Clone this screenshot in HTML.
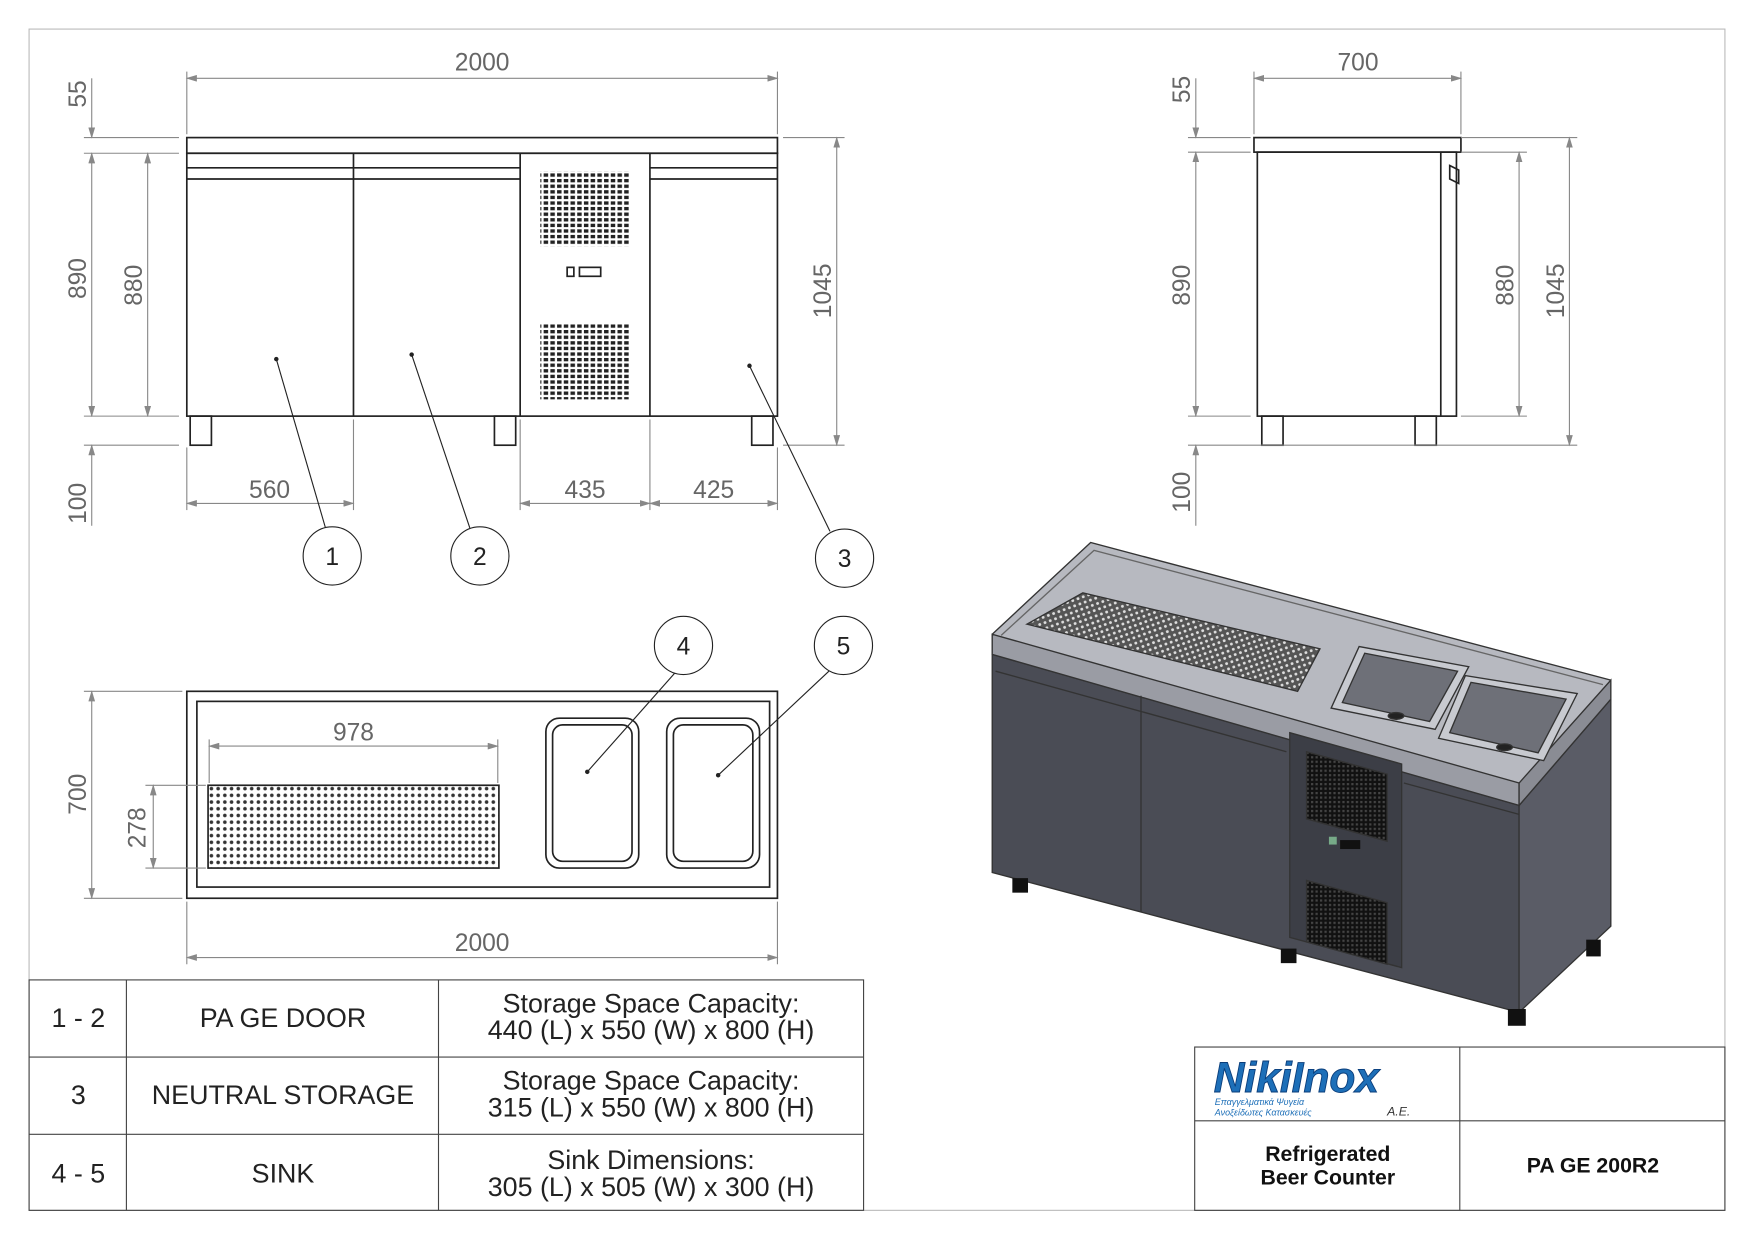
<!DOCTYPE html>
<html><head><meta charset="utf-8"><style>
html,body{margin:0;padding:0;background:#fff;}
svg{display:block;}
text{font-family:"Liberation Sans",sans-serif;}
</style></head><body>
<svg width="1754" height="1241" viewBox="0 0 1568 1109.4" preserveAspectRatio="none" xmlns="http://www.w3.org/2000/svg">
<defs>
<pattern id="dots" width="6" height="6" patternUnits="userSpaceOnUse"><circle cx="3" cy="3" r="1.6" fill="#333"/></pattern>
<pattern id="dots2" width="5" height="5" patternUnits="userSpaceOnUse" patternTransform="rotate(-20)"><rect width="5" height="5" fill="#555"/><circle cx="2.5" cy="2.5" r="1.3" fill="#ddd"/></pattern>
<pattern id="louv" width="6" height="5" patternUnits="userSpaceOnUse"><rect width="6" height="5" fill="#fff"/><rect x="0" y="0" width="4" height="3" fill="#222"/></pattern>
<pattern id="louv2" width="4" height="4" patternUnits="userSpaceOnUse"><rect width="4" height="4" fill="#111"/><rect x="0" y="0" width="2" height="2" fill="#444"/></pattern>
<marker id="a" markerWidth="10" markerHeight="6" refX="9" refY="3" orient="auto-start-reverse" markerUnits="userSpaceOnUse"><path d="M0,0 L10,3 L0,6 z" fill="#888"/></marker>
</defs>
<rect x="26" y="26" width="1516" height="1056" fill="none" stroke="#bbb" stroke-width="1"/>

<g stroke="#222" stroke-width="1.5" fill="none">
<rect x="167" y="123" width="528" height="14"/>
<rect x="167" y="137" width="528" height="235"/>
<line x1="316" y1="137" x2="316" y2="372"/><line x1="465" y1="137" x2="465" y2="372"/><line x1="581" y1="137" x2="581" y2="372"/>
<line x1="167" y1="150" x2="465" y2="150"/><line x1="167" y1="160" x2="465" y2="160"/>
<line x1="581" y1="150" x2="695" y2="150"/><line x1="581" y1="160" x2="695" y2="160"/>
<rect x="170" y="372" width="19" height="26"/><rect x="442" y="372" width="19" height="26"/><rect x="672" y="372" width="19" height="26"/>
<rect x="507" y="239" width="6" height="8"/><rect x="518" y="239" width="19" height="8"/>
</g>
<rect x="483" y="153" width="80" height="67" fill="url(#louv)"/>
<rect x="483" y="290" width="80" height="67" fill="url(#louv)"/>

<g stroke="#888" stroke-width="1" fill="none">
<line x1="167" y1="70" x2="695" y2="70" marker-start="url(#a)" marker-end="url(#a)"/>
<line x1="167" y1="64" x2="167" y2="120"/><line x1="695" y1="64" x2="695" y2="120"/>
<line x1="75" y1="123" x2="160" y2="123"/><line x1="75" y1="137" x2="160" y2="137"/><line x1="75" y1="372" x2="160" y2="372"/><line x1="75" y1="398" x2="160" y2="398"/>
<line x1="82" y1="70" x2="82" y2="123" marker-end="url(#a)"/>
<line x1="82" y1="137" x2="82" y2="372" marker-start="url(#a)" marker-end="url(#a)"/>
<line x1="82" y1="398" x2="82" y2="470" marker-start="url(#a)"/>
<line x1="132" y1="137" x2="132" y2="372" marker-start="url(#a)" marker-end="url(#a)"/>
<line x1="700" y1="123" x2="755" y2="123"/><line x1="700" y1="398" x2="755" y2="398"/>
<line x1="748" y1="123" x2="748" y2="398" marker-start="url(#a)" marker-end="url(#a)"/>
<line x1="167" y1="400" x2="167" y2="456"/><line x1="316" y1="375" x2="316" y2="456"/>
<line x1="465" y1="375" x2="465" y2="456"/><line x1="581" y1="375" x2="581" y2="456"/><line x1="695" y1="400" x2="695" y2="456"/>
<line x1="167" y1="450" x2="316" y2="450" marker-start="url(#a)" marker-end="url(#a)"/>
<line x1="465" y1="450" x2="581" y2="450" marker-start="url(#a)" marker-end="url(#a)"/>
<line x1="581" y1="450" x2="695" y2="450" marker-start="url(#a)" marker-end="url(#a)"/>
</g>
<g fill="#666" font-size="22">
<text x="431" y="63" text-anchor="middle">2000</text>
<text x="241" y="445" text-anchor="middle">560</text>
<text x="523" y="445" text-anchor="middle">435</text>
<text x="638" y="445" text-anchor="middle">425</text>
<text transform="translate(77,84) rotate(-90)" text-anchor="middle">55</text>
<text transform="translate(77,249) rotate(-90)" text-anchor="middle">890</text>
<text transform="translate(127,255) rotate(-90)" text-anchor="middle">880</text>
<text transform="translate(77,450) rotate(-90)" text-anchor="middle">100</text>
<text transform="translate(743,260) rotate(-90)" text-anchor="middle">1045</text>
</g>
<g stroke="#222" stroke-width="1" fill="none">
<line x1="247" y1="321" x2="291" y2="472"/><line x1="368" y1="317" x2="420" y2="472"/><line x1="670" y1="327" x2="742" y2="475"/>
<line x1="525" y1="690" x2="603" y2="602"/><line x1="642" y1="693" x2="741" y2="600"/>
<circle cx="297" cy="497" r="26" fill="#fff"/><circle cx="429" cy="497" r="26" fill="#fff"/><circle cx="755" cy="499" r="26" fill="#fff"/>
<circle cx="611" cy="577" r="26" fill="#fff"/><circle cx="754" cy="577" r="26" fill="#fff"/>
</g>
<g fill="#222"><circle cx="247" cy="321" r="2"/><circle cx="368" cy="317" r="2"/><circle cx="670" cy="327" r="2"/><circle cx="525" cy="690" r="2"/><circle cx="642" cy="693" r="2"/></g>
<g fill="#222" font-size="22" text-anchor="middle">
<text x="297" y="505">1</text><text x="429" y="505">2</text><text x="755" y="507">3</text><text x="611" y="585">4</text><text x="754" y="585">5</text>
</g>

<g stroke="#222" stroke-width="1.5" fill="none">
<rect x="1121" y="123" width="185" height="13"/>
<rect x="1124" y="136" width="178" height="236"/>
<line x1="1288" y1="136" x2="1288" y2="372"/>
<path d="M1296,148 l8,4 v12 l-8,-4 z"/>
<rect x="1128" y="372" width="19" height="26"/><rect x="1265" y="372" width="19" height="26"/>
</g>
<g stroke="#888" stroke-width="1" fill="none">
<line x1="1121" y1="70" x2="1306" y2="70" marker-start="url(#a)" marker-end="url(#a)"/>
<line x1="1121" y1="64" x2="1121" y2="120"/><line x1="1306" y1="64" x2="1306" y2="120"/>
<line x1="1062" y1="123" x2="1118" y2="123"/><line x1="1062" y1="136" x2="1118" y2="136"/><line x1="1062" y1="372" x2="1118" y2="372"/><line x1="1062" y1="398" x2="1410" y2="398"/>
<line x1="1069" y1="70" x2="1069" y2="123" marker-end="url(#a)"/>
<line x1="1069" y1="136" x2="1069" y2="372" marker-start="url(#a)" marker-end="url(#a)"/>
<line x1="1069" y1="398" x2="1069" y2="470" marker-start="url(#a)"/>
<line x1="1306" y1="136" x2="1365" y2="136"/><line x1="1306" y1="372" x2="1365" y2="372"/><line x1="1306" y1="123" x2="1410" y2="123"/>
<line x1="1358" y1="136" x2="1358" y2="372" marker-start="url(#a)" marker-end="url(#a)"/>
<line x1="1403" y1="123" x2="1403" y2="398" marker-start="url(#a)" marker-end="url(#a)"/>
</g>
<g fill="#666" font-size="22">
<text x="1214" y="63" text-anchor="middle">700</text>
<text transform="translate(1064,80) rotate(-90)" text-anchor="middle">55</text>
<text transform="translate(1064,255) rotate(-90)" text-anchor="middle">890</text>
<text transform="translate(1353,255) rotate(-90)" text-anchor="middle">880</text>
<text transform="translate(1398,260) rotate(-90)" text-anchor="middle">1045</text>
<text transform="translate(1064,440) rotate(-90)" text-anchor="middle">100</text>
</g>

<g stroke="#222" stroke-width="1.5" fill="none">
<rect x="167" y="618" width="528" height="185"/>
<rect x="176" y="627" width="512" height="166"/>
<rect x="488" y="642" width="83" height="134" rx="12"/><rect x="494" y="648" width="71" height="122" rx="9"/>
<rect x="596" y="642" width="83" height="134" rx="12"/><rect x="602" y="648" width="71" height="122" rx="9"/>
</g>
<rect x="186" y="702" width="260" height="74" fill="url(#dots)" stroke="#222" stroke-width="1.5"/>
<g stroke="#888" stroke-width="1" fill="none">
<line x1="187" y1="667" x2="445" y2="667" marker-start="url(#a)" marker-end="url(#a)"/>
<line x1="187" y1="661" x2="187" y2="700"/><line x1="445" y1="661" x2="445" y2="700"/>
<line x1="75" y1="618" x2="163" y2="618"/><line x1="75" y1="803" x2="163" y2="803"/>
<line x1="82" y1="618" x2="82" y2="803" marker-start="url(#a)" marker-end="url(#a)"/>
<line x1="130" y1="702" x2="184" y2="702"/><line x1="130" y1="776" x2="184" y2="776"/>
<line x1="137" y1="702" x2="137" y2="776" marker-start="url(#a)" marker-end="url(#a)"/>
<line x1="167" y1="806" x2="167" y2="862"/><line x1="695" y1="806" x2="695" y2="862"/>
<line x1="167" y1="856" x2="695" y2="856" marker-start="url(#a)" marker-end="url(#a)"/>
</g>
<g fill="#666" font-size="22">
<text x="316" y="662" text-anchor="middle">978</text>
<text x="431" y="850" text-anchor="middle">2000</text>
<text transform="translate(77,710) rotate(-90)" text-anchor="middle">700</text>
<text transform="translate(130,740) rotate(-90)" text-anchor="middle">278</text>
</g>

<g stroke="#444" stroke-width="1" fill="none">
<rect x="26" y="876" width="746" height="206"/>
<line x1="26" y1="945" x2="772" y2="945"/><line x1="26" y1="1014" x2="772" y2="1014"/>
<line x1="113" y1="876" x2="113" y2="1082"/><line x1="392" y1="876" x2="392" y2="1082"/>
</g>
<g fill="#222" font-size="24" text-anchor="middle">
<text x="70" y="918">1 - 2</text><text x="253" y="918">PA GE DOOR</text>
<text x="582" y="905">Storage Space Capacity:</text><text x="582" y="929">440 (L) x 550 (W) x 800 (H)</text>
<text x="70" y="987">3</text><text x="253" y="987">NEUTRAL STORAGE</text>
<text x="582" y="974">Storage Space Capacity:</text><text x="582" y="998">315 (L) x 550 (W) x 800 (H)</text>
<text x="70" y="1057">4 - 5</text><text x="253" y="1057">SINK</text>
<text x="582" y="1045">Sink Dimensions:</text><text x="582" y="1069">305 (L) x 505 (W) x 300 (H)</text>
</g>

<g stroke="#444" stroke-width="1" fill="none">
<rect x="1068" y="936" width="474" height="146"/>
<line x1="1305" y1="936" x2="1305" y2="1082"/><line x1="1068" y1="1002" x2="1542" y2="1002"/>
</g>
<text x="1085" y="976" font-size="38" font-weight="bold" font-style="italic" fill="#1d6fb8" stroke="#0a3d7a" stroke-width="0.8">NikiInox</text>
<text x="1086" y="988" font-size="8" fill="#1d6fb8" font-style="italic">Επαγγελματικά Ψυγεία</text>
<text x="1086" y="997" font-size="8" fill="#1d6fb8" font-style="italic">Ανοξείδωτες Κατασκευές</text>
<text x="1240" y="997" font-size="11" fill="#333" font-style="italic">A.E.</text>
<g fill="#111" font-size="19" font-weight="bold" text-anchor="middle">
<text x="1187" y="1038">Refrigerated</text><text x="1187" y="1059">Beer Counter</text>
<text x="1424" y="1048">PA GE 200R2</text>
</g>

<g stroke="#333" stroke-width="1.2">
<polygon points="887,567 975,485 1440,608 1440,625 1358,720 887,585" fill="#b7b9c0"/>
<polyline points="895,568 978,492 1433,612" fill="none" stroke="#666"/>
<polygon points="887,585 1358,720 1358,905 887,780" fill="#4a4c55"/>
<polygon points="1358,720 1440,625 1440,828 1358,905" fill="#5a5c66"/>
<polygon points="887,567 1358,700 1358,720 887,585" fill="#9a9ca4"/>
<polygon points="1358,700 1440,608 1440,625 1358,720" fill="#8a8c94"/>
<polygon points="918,558 968,530 1180,580 1160,618" fill="url(#dots2)"/>
<polygon points="1190,633 1215,578 1313,596 1283,652" fill="#c8cad0"/>
<polygon points="1200,628 1220,584 1303,600 1278,645" fill="#6e7078"/>
<polygon points="1286,660 1310,604 1410,620 1380,680" fill="#c8cad0"/>
<polygon points="1296,655 1315,610 1400,625 1375,673" fill="#6e7078"/>
<ellipse cx="1248" cy="640" rx="7" ry="3" fill="#222"/>
<ellipse cx="1345" cy="668" rx="7" ry="3" fill="#222"/>
<polygon points="1153,655 1253,683 1253,865 1153,838" fill="#3c3e46"/>
<polygon points="1168,672 1240,692 1240,752 1168,732" fill="url(#louv2)"/>
<polygon points="1168,787 1240,807 1240,862 1168,842" fill="url(#louv2)"/>
<line x1="1020" y1="622" x2="1020" y2="815"/>
<line x1="890" y1="600" x2="1150" y2="672"/><line x1="1255" y1="700" x2="1358" y2="728"/>
</g>
<g fill="#111"><rect x="905" y="785" width="14" height="13"/><rect x="1145" y="848" width="14" height="13"/><rect x="1348" y="902" width="16" height="15"/><rect x="1418" y="840" width="13" height="15"/></g>
<rect x="1188" y="748" width="7" height="7" fill="#7a8"/><rect x="1198" y="751" width="18" height="8" fill="#111"/>
</svg>
</body></html>
